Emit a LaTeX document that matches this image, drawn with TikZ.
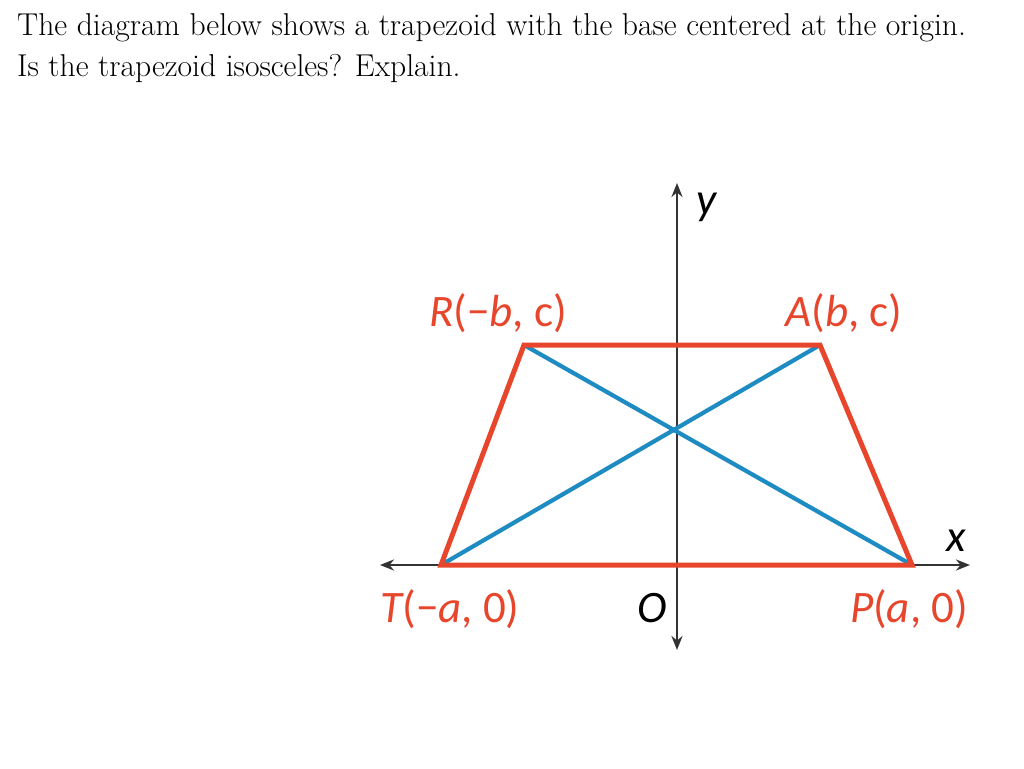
\documentclass[tikz,border=0pt]{standalone}
\usepackage{fontspec}
\newfontfamily\lblfont{Carlito}
\usetikzlibrary{arrows.meta}
\definecolor{trapred}{HTML}{E8462C}
\definecolor{diagblue}{HTML}{1E8BC3}
\definecolor{axisgray}{HTML}{333333}
\begin{document}
\begin{tikzpicture}[x=1pt,y=-1pt,
  axisline/.style={draw=axisgray,line width=2.6pt,-{Stealth[length=14pt,width=11pt]}},
  trapline/.style={draw=trapred,line width=5pt,line join=miter},
  diagline/.style={draw=diagblue,line width=4.2pt},
  lbl/.style={text=trapred,font=\lblfont\fontsize{45}{45}\selectfont,inner sep=0pt,anchor=base},
  axlbl/.style={text=black,font=\lblfont\itshape\fontsize{45}{45}\selectfont,inner sep=0pt,anchor=base},
  pt/.style={coordinate}]
\useasboundingbox[fill=white] (0,0) rectangle (1024,768);
% header text
\node[anchor=base west,inner sep=0pt,font=\fontsize{31.6}{41}\selectfont] (l1) at (17,36) {The diagram below shows a trapezoid with the base centered at the origin.};
\node[anchor=base west,inner sep=0pt,font=\fontsize{31.6}{41}\selectfont] (l2) at (17,77) {Is the trapezoid isosceles? Explain.};
% points
\node[pt] (O) at (677,565) {};
\node[pt] (T) at (441,565) {};
\node[pt] (P) at (912,565) {};
\node[pt] (R) at (524,345) {};
\node[pt] (A) at (820,345) {};
\node[pt] (xl) at (380,565) {};
\node[pt] (xr) at (970,565) {};
\node[pt] (yt) at (677,183) {};
\node[pt] (yb) at (677,650) {};
% axes
\draw[axisline] (O) -- (xl);
\draw[axisline] (O) -- (xr);
\draw[axisline] (O) -- (yt);
\draw[axisline] (O) -- (yb);
% diagonals
\draw[diagline] (T) -- (A);
\draw[diagline] (R) -- (P);
% trapezoid
\draw[trapline] (T) -- (R) -- (A) -- (P) -- cycle;
% labels
\node[lbl] (Rl) at (498,326) {\itshape R\upshape(−\itshape b\upshape, c)};
\node[lbl] (Al) at (844,326) {\itshape A\upshape(\itshape b\upshape, c)};
\node[lbl] (Tl) at (450,622) {\itshape T\upshape(−\itshape a\upshape, 0)};
\node[lbl] (Pl) at (909,622) {\itshape P\upshape(\itshape a\upshape, 0)};
\node[axlbl] (Ol) at (652,622) {O};
\node[axlbl] (yl) at (707,214) {y};
\node[axlbl] (xl2) at (956,551) {x};
\end{tikzpicture}
\end{document}
